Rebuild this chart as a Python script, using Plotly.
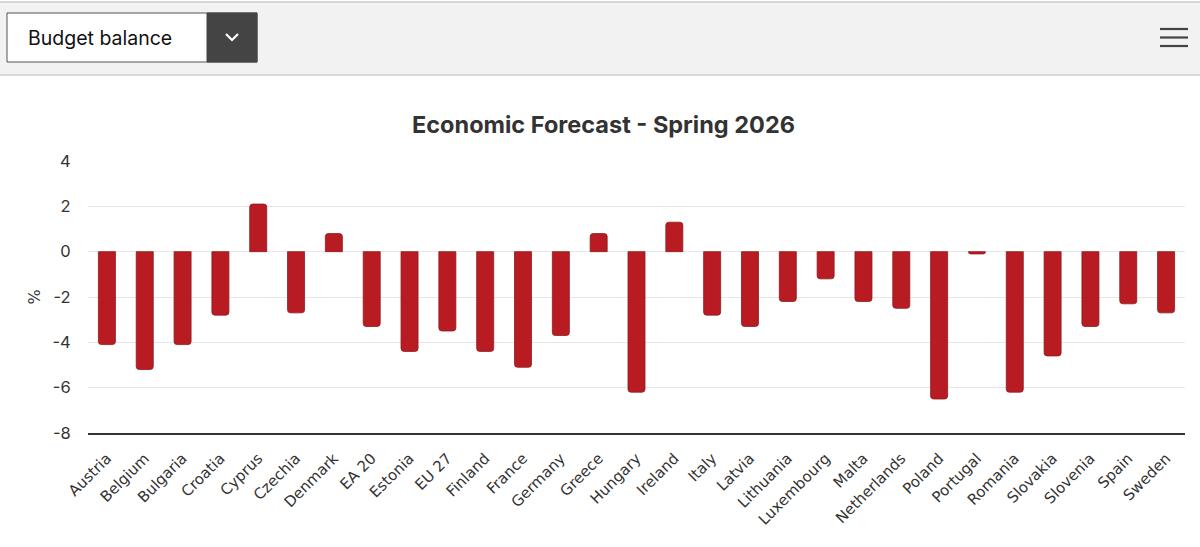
import plotly.graph_objects as go

countries = ["Austria", "Belgium", "Bulgaria", "Croatia", "Cyprus", "Czechia", "Denmark",
             "EA 20", "Estonia", "EU 27", "Finland", "France", "Germany", "Greece", "Hungary",
             "Ireland", "Italy", "Latvia", "Lithuania", "Luxembourg", "Malta", "Netherlands",
             "Poland", "Portugal", "Romania", "Slovakia", "Slovenia", "Spain", "Sweden"]
budget_balance = [-4.1, -5.2, -4.1, -2.8, 2.1, -2.7, 0.8,
                  -3.3, -4.4, -3.5, -4.4, -5.1, -3.7, 0.8, -6.2,
                  1.3, -2.8, -3.3, -2.2, -1.2, -2.2, -2.5,
                  -6.5, -0.1, -6.2, -4.6, -3.3, -2.3, -2.7]
y_ticks = [-8, -6, -4, -2, 0, 2, 4]
chart_title = "Economic Forecast - Spring 2026"
dropdown_label = "Budget balance"

W, H = 1200, 547
L, R, T, B = 88, 15, 161, 114
PW, PH = W - L - R, H - T - B


def px(x):
    return (x - L) / PW


def py(y):
    return (H - B - y) / PH


fig = go.Figure()
fig.add_trace(go.Bar(
    x=countries, y=budget_balance,
    marker=dict(color="#b81c22", line=dict(color="#8f1a1d", width=0.8), cornerradius=3),
    hovertemplate="%{x}: %{y}%<extra></extra>",
))

shapes = [
    # header band
    dict(type="rect", xref="paper", yref="paper", x0=px(0), x1=px(W), y0=py(75), y1=py(2),
         fillcolor="#f2f2f2", line=dict(width=0), layer="below"),
    dict(type="line", xref="paper", yref="paper", x0=px(0), x1=px(W), y0=py(2), y1=py(2),
         line=dict(color="#d6d6d6", width=2)),
    dict(type="line", xref="paper", yref="paper", x0=px(0), x1=px(W), y0=py(75), y1=py(75),
         line=dict(color="#cfcfcf", width=1.5)),
    # dropdown
    dict(type="rect", xref="paper", yref="paper", x0=px(7), x1=px(257), y0=py(62), y1=py(13),
         fillcolor="#ffffff", line=dict(color="#555555", width=1)),
    dict(type="rect", xref="paper", yref="paper", x0=px(207), x1=px(257), y0=py(62), y1=py(13),
         fillcolor="#444444", line=dict(color="#444444", width=1)),
    dict(type="path", xref="paper", yref="paper",
         path=f"M {px(226)} {py(34)} L {px(232)} {py(40)} L {px(238)} {py(34)}",
         line=dict(color="#ffffff", width=2.2)),
]
# hamburger
for yy in (29, 37.5, 46):
    shapes.append(dict(type="line", xref="paper", yref="paper", x0=px(1160), x1=px(1188),
                       y0=py(yy), y1=py(yy), line=dict(color="#444444", width=2.2)))

annotations = [
    dict(text=dropdown_label, xref="paper", yref="paper", x=px(26), y=py(38),
         xanchor="left", yanchor="middle", showarrow=False,
         font=dict(family="Inter, Roboto, sans-serif", size=19.5, color="#111111")),
    dict(text=f"<b>{chart_title}</b>", xref="paper", yref="paper", x=px(603), y=py(124),
         xanchor="center", yanchor="middle", showarrow=False,
         font=dict(family="Inter, Roboto, sans-serif", size=23.5, color="#333333")),
]

fig.update_layout(
    width=W, height=H,
    margin=dict(l=L, r=R, t=T, b=B),
    paper_bgcolor="#ffffff", plot_bgcolor="#ffffff",
    showlegend=False,
    bargap=0.55,
    shapes=shapes, annotations=annotations,
    font=dict(family="DejaVu Sans, Verdana, sans-serif", color="#333333"),
)
fig.update_xaxes(
    tickangle=-45, tickfont=dict(size=15, color="#333333"),
    showline=True, linecolor="#333333", linewidth=1.5,
    showgrid=False, ticks="outside", ticklen=9, tickcolor="rgba(0,0,0,0)", fixedrange=True,
)
fig.update_yaxes(
    range=[-8, 4], tickvals=y_ticks, ticktext=[str(v) for v in y_ticks],
    gridcolor="#e6e6e6", gridwidth=1, zeroline=True, zerolinecolor="#e6e6e6", zerolinewidth=1,
    tickfont=dict(size=16.5, color="#333333", family="Inter, Roboto, sans-serif"),
    ticks="outside", ticklen=13, tickcolor="rgba(0,0,0,0)",
    title=dict(text="%", font=dict(size=16, color="#333333"), standoff=7),
    fixedrange=True,
)

fig.write_html("out.html", config={"displayModeBar": False},
               post_script="document.body.style.margin='0';document.body.style.padding='0';")
